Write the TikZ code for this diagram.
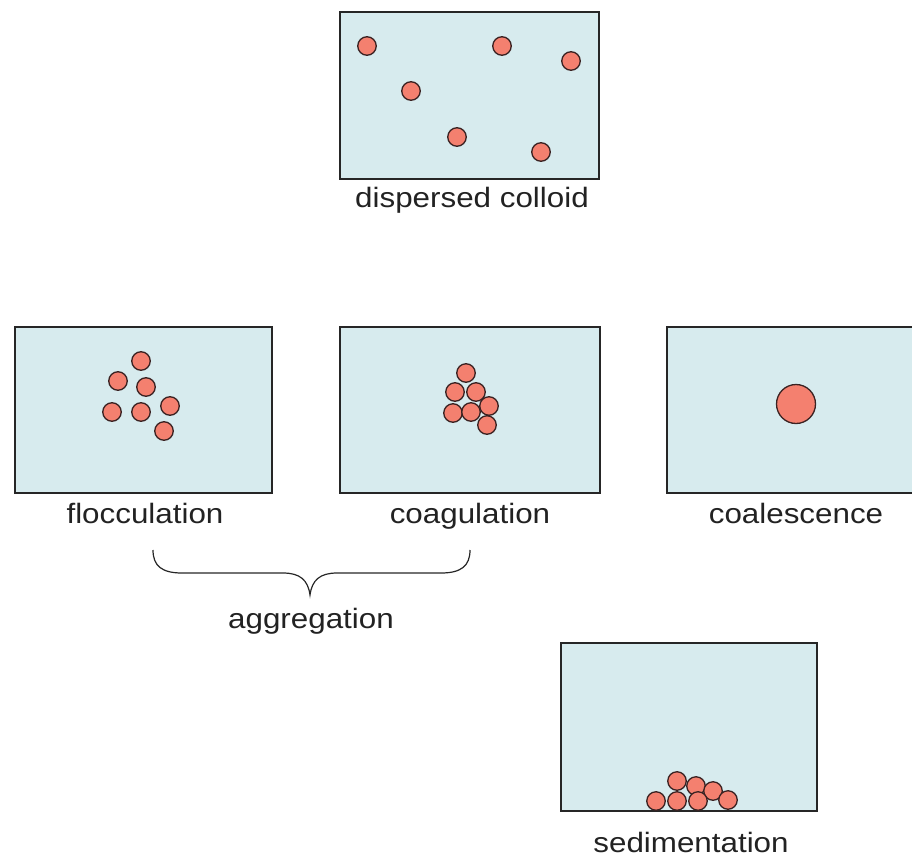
\documentclass[tikz,border=0pt]{standalone}
\usepackage{fontspec}
\newfontfamily\labfont[FakeStretch=1.12]{Liberation Sans}
\definecolor{boxfill}{HTML}{D7EBEE}
\definecolor{pfill}{HTML}{F4806F}
\definecolor{pline}{HTML}{3A2222}
\definecolor{txt}{HTML}{222222}
\begin{document}
\begin{tikzpicture}[x=1pt,y=-1pt,
  panel/.style={draw=black!85, line width=1.4pt, fill=boxfill},
  part/.style={circle, draw=pline, line width=1.3pt, fill=pfill, inner sep=0pt, minimum size=18.5pt},
  bigpart/.style={part, minimum size=39pt},
  lab/.style={font=\labfont\fontsize{28}{30}\selectfont, text=txt, anchor=base, inner sep=0pt},
  bracestyle/.style={draw=black!85, line width=1.2pt}
]
\useasboundingbox (0,0) rectangle (912,862);

% panels
\draw[panel] (340,12) rectangle (599,179);
\draw[panel] (15,327) rectangle (272,493);
\draw[panel] (340,327) rectangle (600,493);
\draw[panel] (667,327) rectangle (913,493);
\draw[panel] (561,643) rectangle (817,811);

% dispersed colloid
\node[part] (d1) at (367,46) {};
\node[part] (d2) at (502,46) {};
\node[part] (d3) at (571,61) {};
\node[part] (d4) at (411,91) {};
\node[part] (d5) at (457,137) {};
\node[part] (d6) at (541,152) {};

% flocculation
\node[part] (f1) at (141,361) {};
\node[part] (f2) at (118,381) {};
\node[part] (f3) at (146,387) {};
\node[part] (f4) at (112,412) {};
\node[part] (f5) at (141,412) {};
\node[part] (f6) at (170,406) {};
\node[part] (f7) at (164,431) {};

% coagulation
\node[part] (c1) at (466,373) {};
\node[part] (c2) at (455,392) {};
\node[part] (c3) at (476,392) {};
\node[part] (c6) at (489,406) {};
\node[part] (c4) at (453,413) {};
\node[part] (c5) at (471,412) {};
\node[part] (c7) at (487,425) {};

% coalescence
\node[bigpart] (big) at (796,404) {};

% sedimentation
\node[part] (s1) at (677,781) {};
\node[part] (s2) at (696,786) {};
\node[part] (s3) at (713,791) {};
\node[part] (s4) at (656,801) {};
\node[part] (s5) at (677,801) {};
\node[part] (s6) at (698,801) {};
\node[part] (s7) at (728,800) {};

% labels
\node[lab] (ldisp) at (472,207) {dispersed colloid};
\node[lab] (lfloc) at (145,523) {flocculation};
\node[lab] (lcoag) at (470,523) {coagulation};
\node[lab] (lcoal) at (796,523) {coalescence};
\node[lab] (lagg) at (311,628) {aggregation};
\node[lab] (lsed) at (691,852) {sedimentation};

% brace
\coordinate (bl) at (153,550);
\coordinate (br) at (470,550);
\coordinate (btip) at (310,595);
\draw[bracestyle] (bl) .. controls (153,566) and (162,573) .. (182,573)
  -- (283,573) .. controls (300,573) and (308,580) .. (btip)
  .. controls (312,580) and (320,573) .. (337,573)
  -- (441,573) .. controls (461,573) and (470,566) .. (br);
\end{tikzpicture}
\end{document}
